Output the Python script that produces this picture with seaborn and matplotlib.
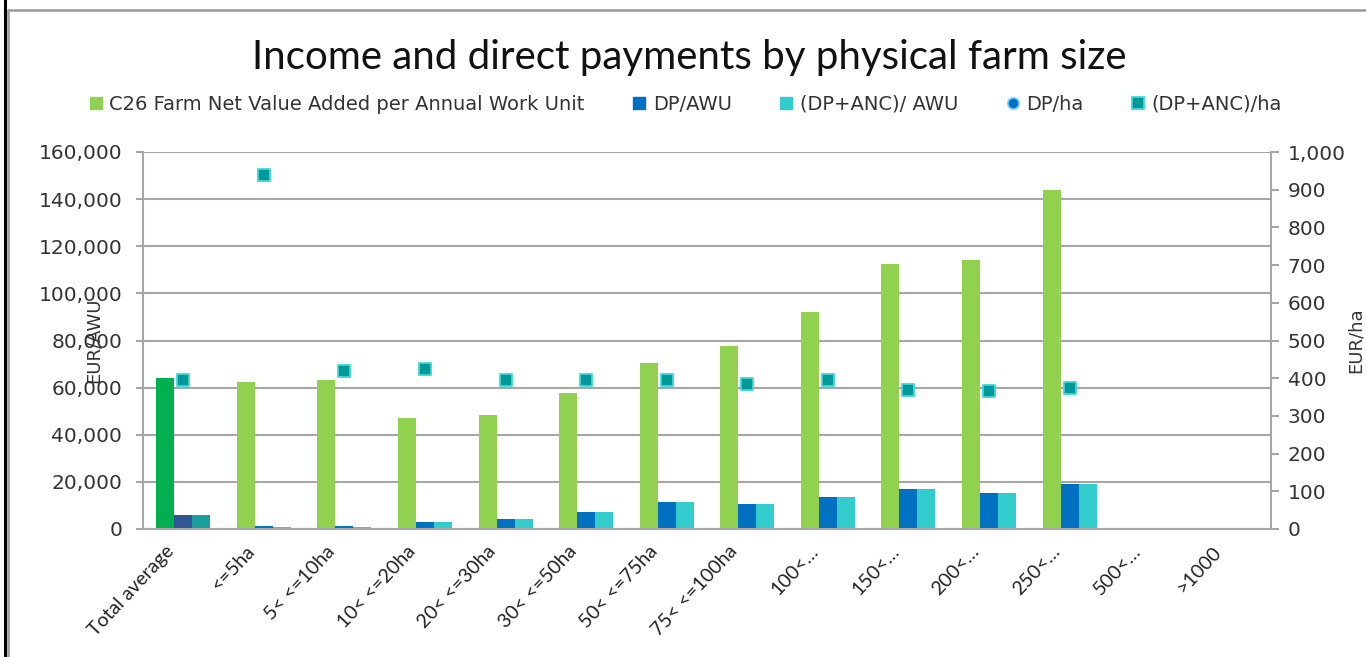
import numpy as np
import pandas as pd
import matplotlib
matplotlib.use("Agg")
import matplotlib.pyplot as plt
from matplotlib.lines import Line2D
from matplotlib.ticker import FuncFormatter, MultipleLocator
from matplotlib.transforms import ScaledTranslation
import seaborn as sns

# ---- data -------------------------------------------------------------
categories = ["Total average", "<=5ha", "5< <=10ha", "10< <=20ha", "20< <=30ha",
              "30< <=50ha", "50< <=75ha", "75< <=100ha", "100<…", "150<…",
              "200<…", "250<…", "500<…", ">1000"]

fnva_awu = [64000, 62500, 63300, 47000, 48500, 57800, 70500, 77500,
            92200, 112500, 114000, 143800, np.nan, np.nan]
dp_awu = [6000, 1100, 1100, 2800, 4200, 7400, 11300, 10500,
          13600, 16800, 15300, 19100, np.nan, np.nan]
dp_anc_awu = [6000, 1000, 1000, 2800, 4200, 7400, 11300, 10500,
              13600, 16800, 15300, 19100, np.nan, np.nan]
dp_ha = [395, 940, 418, 424, 395, 395, 395, 385, 395, 370, 366, 375, np.nan, np.nan]
dp_anc_ha = [395, 940, 418, 424, 395, 395, 395, 385, 395, 370, 366, 375, np.nan, np.nan]

bar_series = ["C26 Farm Net Value Added per Annual Work Unit", "DP/AWU", "(DP+ANC)/ AWU"]
bar_colors = ["#92D050", "#0070C0", "#33CCCC"]
total_colors = ["#00B050", "#2F5597", "#1A9E9E"]

# ---- long tables for seaborn -----------------------------------------
bars = pd.DataFrame({
    "category": categories * 3,
    "series": sum([[s] * len(categories) for s in bar_series], []),
    "value": fnva_awu + dp_awu + dp_anc_awu,
}).dropna()

pts_dp = pd.DataFrame({"category": categories, "value": dp_ha}).dropna()
pts_anc = pd.DataFrame({"category": categories, "value": dp_anc_ha}).dropna()

# ---- figure ----------------------------------------------------------
sns.set_style("white")
plt.rcParams["font.family"] = ["DejaVu Sans"]
TXT = "#333333"
GRID = "#A6A6A6"

fig = plt.figure(figsize=(13.66, 6.57), dpi=100)
ax = fig.add_axes([143 / 1366, 1 - 529 / 657, 1128 / 1366, 377 / 657])

sns.barplot(data=bars, x="category", y="value", hue="series", order=categories,
            hue_order=bar_series, palette=bar_colors, saturation=1, width=0.67,
            gap=0, linewidth=0, legend=False, ax=ax)
for cont, col in zip(ax.containers, total_colors):
    cont.patches[0].set_facecolor(col)

ax.set_ylim(0, 160000)
ax.yaxis.set_major_locator(MultipleLocator(20000))
ax.yaxis.set_major_formatter(FuncFormatter(lambda v, p: f"{int(v):,}"))
ax.set_axisbelow(True)
ax.grid(axis="y", color=GRID, linewidth=1.5)
ax.grid(axis="x", visible=False)
for side in ["top", "right"]:
    ax.spines[side].set_visible(False)
for side in ["left", "bottom"]:
    ax.spines[side].set_color(GRID)
    ax.spines[side].set_linewidth(1.5)
ax.tick_params(axis="y", direction="out", length=5, color=GRID, width=1.5,
               labelsize=14.5, labelcolor=TXT, pad=10)
ax.tick_params(axis="x", length=0, pad=14)
ax.set_xlabel("")
ax.set_ylabel("EUR/AWU", fontsize=13, color=TXT)
ax.yaxis.set_label_coords(-0.036, 0.5)

# secondary axis: payments per hectare
ax2 = ax.twinx()
sns.stripplot(data=pts_dp, x="category", y="value", order=categories, jitter=False,
              color="#0070C0", marker="o", size=8, linewidth=1.2,
              edgecolor="#66CCFF", ax=ax2, zorder=3)
sns.stripplot(data=pts_anc, x="category", y="value", order=categories, jitter=False,
              color="#009999", marker="s", size=8.5, linewidth=1.3,
              edgecolor="#40D8D8", ax=ax2, zorder=4)
ax2.set_ylim(0, 1000)
ax2.yaxis.set_major_locator(MultipleLocator(100))
ax2.yaxis.set_major_formatter(FuncFormatter(lambda v, p: f"{int(v):,}"))
ax2.grid(False)
for side in ["top", "left", "bottom"]:
    ax2.spines[side].set_visible(False)
ax2.spines["right"].set_visible(True)
ax2.spines["right"].set_color(GRID)
ax2.spines["right"].set_linewidth(1.5)
ax2.tick_params(axis="y", direction="out", length=6, color=GRID, width=1.5,
                labelsize=14.5, labelcolor=TXT, pad=6, right=True)
ax2.set_xlabel("")
ax2.set_ylabel("EUR/ha", fontsize=13, color=TXT)
ax2.yaxis.set_label_coords(1.067, 0.5)

ax.set_xlim(-0.5, len(categories) - 0.5)
ax.set_xticks(range(len(categories)))
ax.set_xticklabels(categories, rotation=47, ha="right", va="center",
                   rotation_mode="anchor", fontsize=14, color="#222222",
                   family="Lato")
shift = ScaledTranslation(-9 / 72, 0, fig.dpi_scale_trans)
for lbl in ax.get_xticklabels():
    lbl.set_transform(lbl.get_transform() + shift)

# ---- title & legend --------------------------------------------------
fig.text(0.5044, 1 - 57 / 657, "Income and direct payments by physical farm size",
         ha="center", va="center", fontsize=29, color="#111111", family="Lato")

handles = [
    Line2D([], [], linestyle="", marker="s", markersize=9, color=bar_colors[0]),
    Line2D([], [], linestyle="", marker="s", markersize=9, color=bar_colors[1]),
    Line2D([], [], linestyle="", marker="s", markersize=9, color=bar_colors[2]),
    Line2D([], [], linestyle="", marker="o", markersize=8, markerfacecolor="#0070C0",
           markeredgecolor="#66CCFF", markeredgewidth=1.2),
    Line2D([], [], linestyle="", marker="s", markersize=8.5, markerfacecolor="#009999",
           markeredgecolor="#40D8D8", markeredgewidth=1.3),
]
labels = bar_series + ["DP/ha", "(DP+ANC)/ha"]
fig.legend(handles, labels, loc="center", bbox_to_anchor=(0.5015, 1 - 104 / 657),
           ncol=5, frameon=False, fontsize=14, handlelength=0.8,
           handletextpad=0.3, columnspacing=2.4, labelcolor=TXT)

# ---- outer frame -----------------------------------------------------
fig.add_artist(Line2D([5 / 1366, 5 / 1366], [0, 1], transform=fig.transFigure,
                      color="black", linewidth=2.2))
fig.add_artist(Line2D([8 / 1366, 1], [1 - 10 / 657, 1 - 10 / 657],
                      transform=fig.transFigure, color="#9A9A9A", linewidth=1.8))
fig.add_artist(Line2D([8 / 1366, 8 / 1366], [0, 1 - 10 / 657],
                      transform=fig.transFigure, color="#9A9A9A", linewidth=1.8))

fig.savefig("out.png", dpi=100, facecolor="white")
